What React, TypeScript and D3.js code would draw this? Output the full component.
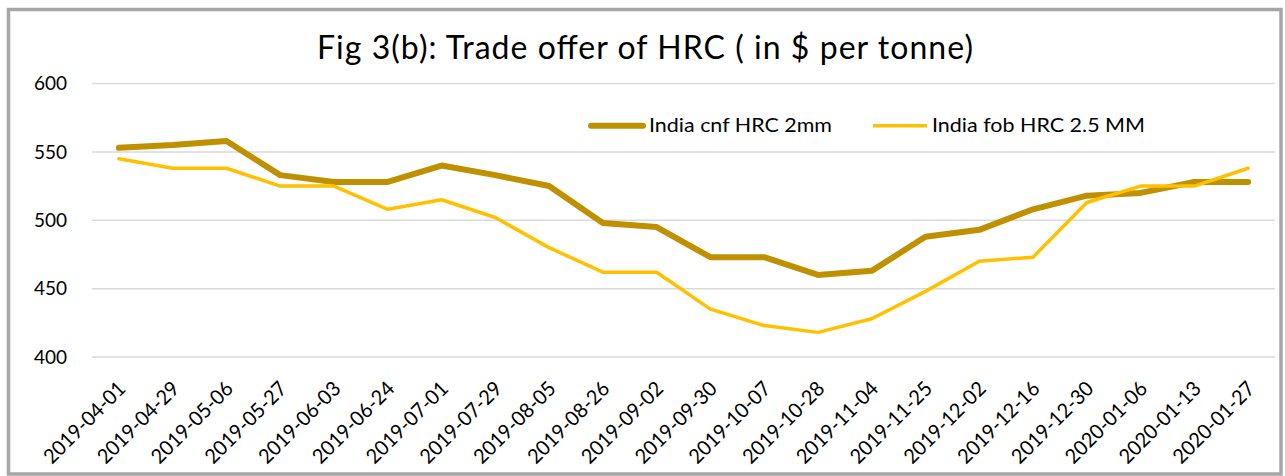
import React from "react";
import * as d3 from "d3";

const categories = [
  "2019-04-01", "2019-04-29", "2019-05-06", "2019-05-27", "2019-06-03", "2019-06-24",
  "2019-07-01", "2019-07-29", "2019-08-05", "2019-08-26", "2019-09-02", "2019-09-30",
  "2019-10-07", "2019-10-28", "2019-11-04", "2019-11-25", "2019-12-02", "2019-12-16",
  "2019-12-30", "2020-01-06", "2020-01-13", "2020-01-27",
];
const cnfValues = [553, 555, 558, 533, 528, 528, 540, 533, 525, 498, 495, 473, 473, 460, 463, 488, 493, 508, 518, 520, 528, 528];
const fobValues = [545, 538, 538, 525, 525, 508, 515, 502, 480, 462, 462, 435, 423, 418, 428, 448, 470, 473, 513, 525, 525, 538];
const yTicks = [400, 450, 500, 550, 600];
const seriesNames = ["India cnf HRC 2mm", "India fob HRC 2.5 MM"];
const titleText = "Fig 3(b): Trade offer of HRC ( in $ per tonne)";

const W = 1285;
const H = 476;
const FONT = "Lato, 'Open Sans', sans-serif";

export default function App() {
  const left = 92;
  const right = 1275;
  const top = 83.5;
  const bottom = 357;

  const x = d3.scaleBand<string>().domain(categories).range([left, right]);
  const y = d3.scaleLinear().domain([400, 600]).range([bottom, top]);
  const cx = (c: string) => (x(c) ?? 0) + x.bandwidth() / 2;

  const line = d3
    .line<number>()
    .x((_, i) => cx(categories[i]))
    .y((d) => y(d));

  return (
    <svg
      width={W}
      height={H}
      style={{ position: "absolute", left: 0, top: 0, background: "#fff" }}
      fontFamily={FONT}
    >
      <rect x={8.5} y={9.5} width={1272.5} height={464.5} fill="#fff" stroke="#a6a6a6" strokeWidth={3.5} />
      <text x={317} y={59} fontSize={32} fill="#000" textLength={656} lengthAdjust="spacing">
        {titleText}
      </text>
      {yTicks.map((t) => (
        <g key={t}>
          <line x1={left} x2={right} y1={y(t)} y2={y(t)} stroke="#d9d9d9" strokeWidth={1.5} />
          <text x={67} y={y(t)} dy="0.36em" textAnchor="end" fontSize={19} fill="#000">
            {t}
          </text>
        </g>
      ))}
      {categories.map((c) => (
        <text
          key={c}
          transform={`translate(${cx(c) + 8},${bottom + 33}) rotate(-45)`}
          textAnchor="end"
          fontSize={20.5}
          fill="#000"
          textLength={106}
          lengthAdjust="spacingAndGlyphs"
        >
          {c}
        </text>
      ))}
      <path d={line(cnfValues) ?? ""} fill="none" stroke="#bf9000" strokeWidth={6} strokeLinejoin="round" strokeLinecap="round" />
      <path d={line(fobValues) ?? ""} fill="none" stroke="#ffc000" strokeWidth={3.5} strokeLinejoin="round" strokeLinecap="round" />
      {/* legend */}
      <line x1={591} x2={643} y1={125.7} y2={125.7} stroke="#bf9000" strokeWidth={6} strokeLinecap="round" />
      <text x={649} y={132} fontSize={20} fill="#000" textLength={183} lengthAdjust="spacingAndGlyphs">
        {seriesNames[0]}
      </text>
      <line x1={873} x2={927} y1={125.7} y2={125.7} stroke="#ffc000" strokeWidth={3.5} />
      <text x={932} y={132} fontSize={20} fill="#000" textLength={213} lengthAdjust="spacingAndGlyphs">
        {seriesNames[1]}
      </text>
    </svg>
  );
}
